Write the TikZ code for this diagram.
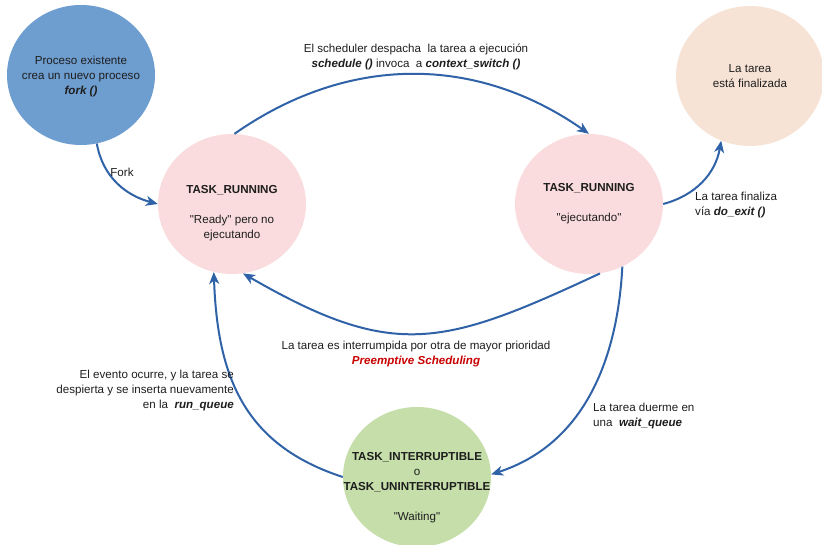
\documentclass[tikz,border=0pt]{standalone}
\usepackage{fontspec}
\setmainfont{Liberation Sans}
\usetikzlibrary{arrows.meta, shapes.geometric}

\definecolor{flecha}{RGB}{48,98,168}
\definecolor{azulfill}{RGB}{110,157,207}
\definecolor{rosafill}{RGB}{250,220,222}
\definecolor{durazno}{RGB}{246,227,213}
\definecolor{verdefill}{RGB}{197,222,170}
\definecolor{rojo}{RGB}{200,0,0}
\definecolor{texto}{RGB}{30,30,30}

\tikzset{
  estado/.style={ellipse, minimum width=148pt, minimum height=140pt, inner sep=0pt, align=center, text=texto},
  trans/.style={draw=flecha, line width=2pt, -{Stealth[length=12pt,width=10pt,inset=3.5pt]}},
  etiq/.style={text=texto, inner sep=0pt}
}
\newcommand{\bi}[1]{\textbf{\textit{#1}}}
\newcommand{\qq}[1]{\textquotedbl#1\textquotedbl}

\begin{document}
\begin{tikzpicture}[x=1pt, y=-1pt, font=\fontsize{11.6}{15}\selectfont]
  \useasboundingbox (0,0) rectangle (822,545);

  % Estados
  \node[estado, fill=azulfill] (nuevo) at (81,75) {};
  \node[etiq, align=center] (nuevotxt) at (81,77) {Proceso existente\\crea un nuevo proceso\\\bi{fork ()}};
  \node[estado, fill=rosafill] (listo) at (232,204) {};
  \node[etiq, align=center] (listotxt) at (232,213) {\textbf{TASK\_RUNNING}\\[15pt]\qq{Ready} pero no\\ ejecutando};
  \node[estado, fill=rosafill] (ejec) at (589,204) {\textbf{TASK\_RUNNING}\\[15pt]\qq{ejecutando}};
  \node[estado, fill=durazno] (fin) at (750,76) {La tarea\\está finalizada};
  \node[estado, fill=verdefill] (espera) at (417,477) {};
  \node[etiq, align=center] (esperatxt) at (417,488) {\textbf{TASK\_INTERRUPTIBLE}\\o\\\textbf{TASK\_UNINTERRUPTIBLE}\\[15pt]\qq{Waiting}};

  % Transiciones
  % Fork
  \draw[trans] (nuevo.-77) to[out=-80, in=165] (listo.west);
  \node[etiq] (lfork) at (122,172) {Fork};

  % Despacho
  \draw[trans] (listo.88) to[out=35, in=145] (ejec.90);
  \node[etiq, align=center] (ldesp) at (416,57) {El scheduler despacha\ \ la tarea a ejecución\\\bi{schedule ()} invoca\ \ a \bi{context\_switch ()}};

  % Fin
  \draw[trans] (ejec.east) to[out=15, in=-100] (fin.-114);
  \node[etiq, align=left, anchor=west] (lfin) at (695,205) {La tarea finaliza\\vía \bi{do\_exit ()}};

  % Preemptive
  \draw[trans] (ejec.-81) to[out=-155, in=-30, looseness=1.25] (listo.-81);
  \node[etiq, align=center] (lpre) at (416,354) {La tarea es interrumpida por otra de mayor prioridad\\\textcolor{rojo}{\bi{Preemptive Scheduling}}};

  % Espera
  \draw[trans] (ejec.-62) to[out=-93, in=18] (espera.2);
  \node[etiq, align=left, anchor=west] (lesp) at (593,416) {La tarea duerme en\\una\ \ \bi{wait\_queue}};

  % Despierta
  \draw[trans] (espera.west) to[out=162, in=-88, looseness=1.1] (listo.-105);
  \node[etiq, align=right, anchor=east] (ldesp2) at (234,391) {El evento ocurre, y la tarea se\\despierta y se inserta nuevamente\\en la\ \ \bi{run\_queue}};
\end{tikzpicture}
\end{document}
